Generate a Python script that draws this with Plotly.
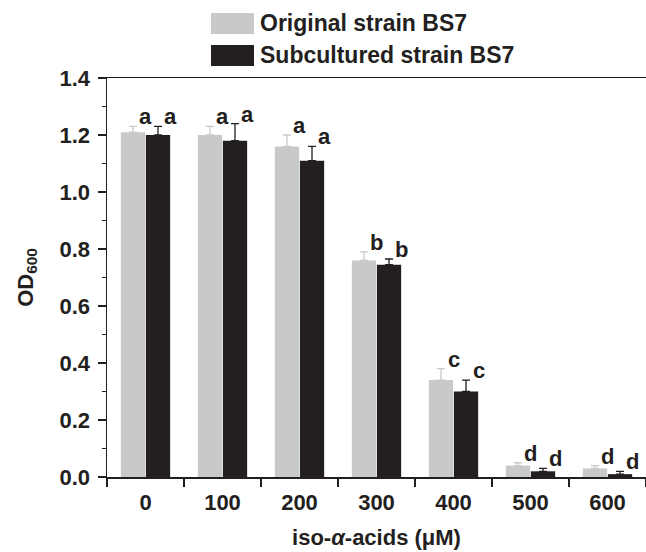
import plotly.graph_objects as go

# ---- data ----
categories = ["0", "100", "200", "300", "400", "500", "600"]
series_names = ["Original strain BS7", "Subcultured strain BS7"]
original = [1.21, 1.20, 1.16, 0.76, 0.34, 0.04, 0.03]
original_err = [0.02, 0.03, 0.04, 0.03, 0.04, 0.01, 0.01]
subcultured = [1.20, 1.18, 1.11, 0.745, 0.30, 0.02, 0.01]
subcultured_err = [0.03, 0.06, 0.05, 0.02, 0.04, 0.01, 0.01]
original_letters = ["a", "a", "a", "b", "c", "d", "d"]
subcultured_letters = ["a", "a", "a", "b", "c", "d", "d"]

GREY = "#c8c9cb"
BLACK = "#231f20"
FONT = "Liberation Sans"

W, H = 646, 552
L, R, T, B = 107, 0, 78, 75
PW, PH = W - L - R, H - T - B

idx = list(range(len(categories)))
boundaries = [i - 0.5 for i in range(len(categories) + 1)]

fig = go.Figure()
for name, vals, errs, col in [
    (series_names[0], original, original_err, GREY),
    (series_names[1], subcultured, subcultured_err, BLACK),
]:
    fig.add_trace(go.Bar(
        x=idx, y=vals, name=name,
        marker=dict(color=col, line=dict(width=0)),
        error_y=dict(type="data", array=errs, arrayminus=[0] * len(errs),
                     symmetric=False, color=col, thickness=1.3, width=4),
        showlegend=False, hoverinfo="skip",
    ))

annotations = []
for i in idx:
    for vals, errs, letters, dx in [
        (original, original_err, original_letters, 0),
        (subcultured, subcultured_err, subcultured_letters, 25),
    ]:
        annotations.append(dict(
            x=i, y=vals[i] + errs[i], xref="x", yref="y",
            text="<b>%s</b>" % letters[i], showarrow=False,
            xanchor="center", yanchor="bottom", xshift=dx, yshift=-5,
            font=dict(family=FONT, size=22, color=BLACK),
        ))

def px_x(px):
    return (px - L) / PW

def px_y(py):
    return (H - B - py) / PH

shapes = []
legend_rows = [(series_names[0], GREY, 13, 34), (series_names[1], BLACK, 45, 66)]
for name, col, y0, y1 in legend_rows:
    shapes.append(dict(type="rect", xref="paper", yref="paper",
                       x0=px_x(211), x1=px_x(254), y0=px_y(y1), y1=px_y(y0),
                       fillcolor=col, line=dict(width=0)))
    annotations.append(dict(x=px_x(258), y=px_y((y0 + y1) / 2), xref="paper", yref="paper",
                            text="<b>%s</b>" % name, showarrow=False,
                            xanchor="left", yanchor="middle",
                            font=dict(family=FONT, size=23, color=BLACK)))

fig.update_layout(
    width=W, height=H,
    margin=dict(l=L, r=R, t=T, b=B, autoexpand=False),
    paper_bgcolor="white", plot_bgcolor="white",
    barmode="group", bargap=0.35, bargroupgap=0.03,
    font=dict(family=FONT, size=22, color=BLACK),
    annotations=annotations, shapes=shapes,
    xaxis=dict(
        type="linear", range=[-0.5, len(categories) - 0.5],
        tickmode="array", tickvals=idx, ticktext=categories,
        ticks="", ticklen=0, ticklabelstandoff=5,
        minor=dict(tickmode="array", tickvals=boundaries, ticks="outside", ticklen=8,
                   tickwidth=1.5, tickcolor=BLACK, showgrid=False),
        showline=True, linecolor=BLACK, linewidth=1.5,
        mirror=True, showgrid=False, zeroline=False,
        tickfont=dict(family=FONT, size=22, color=BLACK, weight="bold"),
        title=dict(text="<b>iso-<i>α</i>-acids (μM)</b>", standoff=15,
                   font=dict(family=FONT, size=22, color=BLACK)),
    ),
    yaxis=dict(
        range=[0, 1.4], dtick=0.2, tickformat=".1f", ticks="outside", ticklen=8,
        tickwidth=1.5, tickcolor=BLACK, showline=True, linecolor=BLACK, linewidth=1.5,
        showgrid=False, zeroline=False, ticklabelstandoff=3,
        minor=dict(dtick=0.1, ticks="outside", ticklen=4, tickwidth=1.5, tickcolor=BLACK),
        tickfont=dict(family=FONT, size=22, color=BLACK, weight="bold"),
        title=dict(text="<b>OD<sub>600</sub></b>", standoff=20,
                   font=dict(family=FONT, size=22, color=BLACK)),
    ),
)

fig.write_html(
    "out.html",
    config={"displayModeBar": False, "staticPlot": True},
    post_script="document.body.style.margin='0';document.body.style.overflow='hidden';",
)
